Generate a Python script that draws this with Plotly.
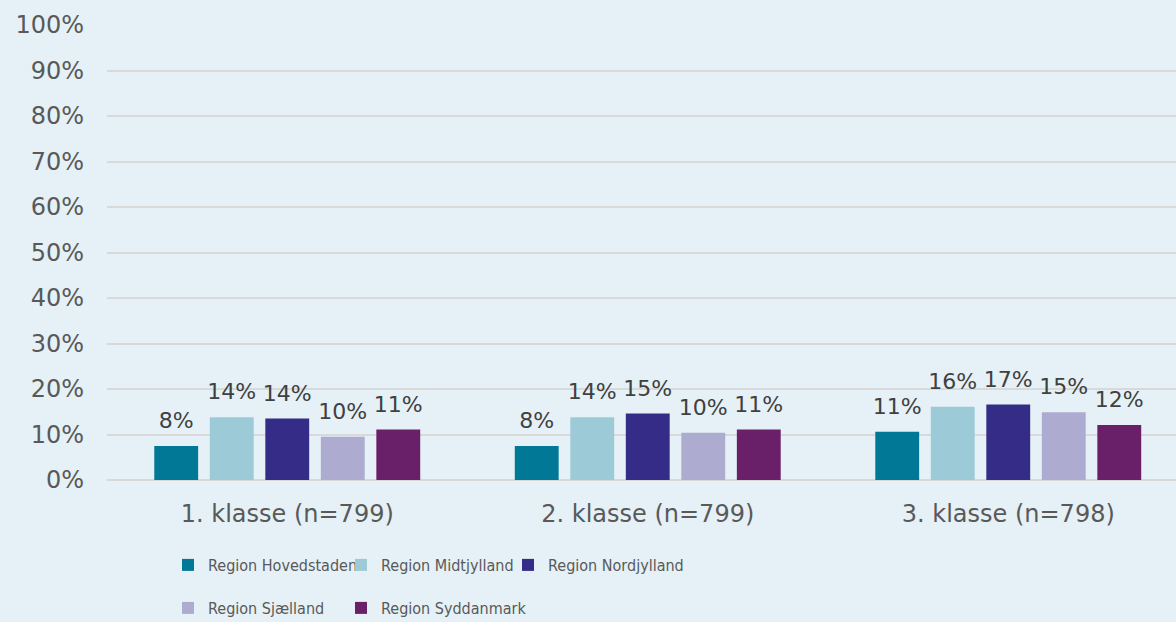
import plotly.graph_objects as go

categories = ["1. klasse (n=799)", "2. klasse (n=799)", "3. klasse (n=798)"]
regions = ["Region Hovedstaden", "Region Midtjylland", "Region Nordjylland",
           "Region Sjælland", "Region Syddanmark"]
hovedstaden = [7.5, 7.5, 10.6]
midtjylland = [13.8, 13.8, 16.1]
nordjylland = [13.5, 14.6, 16.6]
sjaelland = [9.5, 10.4, 14.9]
syddanmark = [11.1, 11.1, 12.1]
series = [hovedstaden, midtjylland, nordjylland, sjaelland, syddanmark]
colors = ["#007896", "#9ccad6", "#342c86", "#aeabd1", "#6a2068"]
tick_vals = [0, 10, 20, 30, 40, 50, 60, 70, 80, 90, 100]
tick_text = [f"{v}%" for v in tick_vals]

W, H = 1176, 622
L, R, T, B = 107, 0, 25, 142
pw, ph = W - L - R, H - T - B

fig = go.Figure()
legend_names = ["legend", "legend2", "legend3", "legend4", "legend5"]
for i, (name, vals, col) in enumerate(zip(regions, series, colors)):
    fig.add_trace(go.Bar(
        x=categories, y=vals, name=name,
        marker=dict(color=col, line=dict(width=0)),
        offsetgroup=str(i),
        legend=legend_names[i],
    ))
for i, vals in enumerate(series):
    fig.add_trace(go.Scatter(
        x=categories, y=vals, mode="markers+text",
        marker=dict(size=18, opacity=0),
        text=[f"{round(v):.0f}%" for v in vals],
        textposition="top center",
        textfont=dict(family="DejaVu Sans", size=22, color="#404040"),
        offsetgroup=str(i), showlegend=False, hoverinfo="skip",
        cliponaxis=False,
    ))

# legend positions (pixel x of entry, pixel y center)
leg_pos = [(168, 565), (341, 565), (508, 565), (168, 608), (341, 608)]
leg_layout = {}
for ln, (px, py) in zip(legend_names, leg_pos):
    leg_layout[ln] = dict(
        x=(px - L) / pw, y=-(py - (T + ph)) / ph,
        xanchor="left", yanchor="middle",
        orientation="h", bgcolor="rgba(0,0,0,0)",
        font=dict(family="DejaVu Sans Condensed", size=16, color="#595959"),
        itemwidth=30,
    )

fig.update_layout(
    width=W, height=H,
    margin=dict(l=L, r=R, t=T, b=B, autoexpand=False),
    paper_bgcolor="#e5f1f6", plot_bgcolor="#e5f1f6",
    barmode="group", bargap=0.23, bargroupgap=0.21,
    scattermode="group", scattergap=0.23,
    showlegend=True,
    **leg_layout,
)
fig.update_xaxes(
    range=[-0.5, -0.5 + pw / 360.5],
    showgrid=False, zeroline=False, showline=False, ticks="",
    ticklabelstandoff=17,
    tickfont=dict(family="DejaVu Sans", size=24, color="#595959"),
)
fig.update_yaxes(
    range=[0, 100], tickvals=tick_vals, ticktext=tick_text,
    showgrid=True, gridcolor="#d9d9d9", gridwidth=2,
    zeroline=True, zerolinecolor="#d9d9d9", zerolinewidth=2,
    showline=False, ticks="", ticklabelstandoff=22,
    tickfont=dict(family="DejaVu Sans", size=24, color="#595959"),
)
fig.write_html("out.html", config={"displayModeBar": False},
               post_script="document.body.style.margin='0px';document.body.style.overflow='hidden';")
